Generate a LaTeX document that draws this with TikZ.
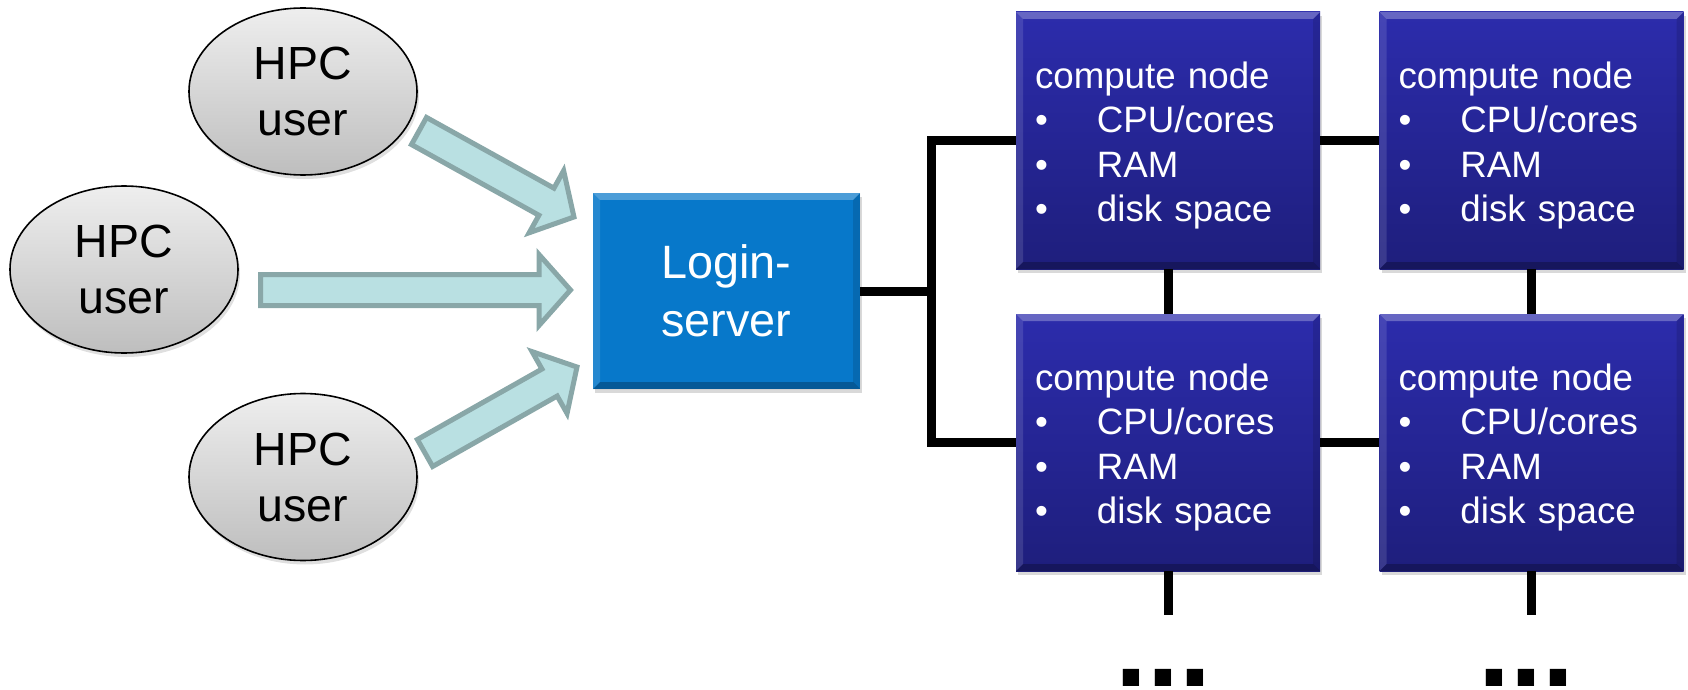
\documentclass[tikz,border=0pt]{standalone}
\usepackage{fontspec}
\setmainfont{Liberation Sans}
\usetikzlibrary{shapes.geometric,shadows,calc}
\definecolor{ellTop}{RGB}{238,238,238}
\definecolor{ellBot}{RGB}{190,190,190}
\definecolor{loginBlue}{RGB}{7,120,202}
\definecolor{cnTop}{RGB}{44,44,172}
\definecolor{cnBot}{RGB}{30,30,124}
\definecolor{arrFill}{RGB}{185,224,226}
\definecolor{arrDraw}{RGB}{137,167,168}
\newcommand\cbul{\makebox[31pt][l]{\textbullet}}
\newcommand\blockarrow[2]{%
  \path let \p1=(#1), \p2=(#2) in
    \pgfextra{%
      \pgfmathsetmacro\BAang{atan2(\y2-\y1,\x2-\x1)}%
      \pgfmathsetmacro\BAlen{veclen(\x2-\x1,\y2-\y1)}%
      \global\let\BAang\BAang \global\let\BAlen\BAlen};
  \begin{scope}[shift={(#1)}, rotate=\BAang]
    \draw[blockarr] (0pt,7.75pt) -- ({\BAlen pt-15.75pt},7.75pt) -- ({\BAlen pt-15.75pt},17.75pt)
      -- (\BAlen pt,0pt) -- ({\BAlen pt-15.75pt},-17.75pt) -- ({\BAlen pt-15.75pt},-7.75pt)
      -- (0pt,-7.75pt) -- cycle;
  \end{scope}}
\tikzset{
  bevelfx/.style={path picture={
    \coordinate (pNW) at (path picture bounding box.north west);
    \coordinate (pNE) at (path picture bounding box.north east);
    \coordinate (pSW) at (path picture bounding box.south west);
    \coordinate (pSE) at (path picture bounding box.south east);
    \fill[white,opacity=0.28] (pNW) -- (pNE) -- ([shift={(-3.5pt,-3.5pt)}]pNE) -- ([shift={(3.5pt,-3.5pt)}]pNW) -- cycle;
    \fill[white,opacity=0.12] (pNW) -- ([shift={(3.5pt,-3.5pt)}]pNW) -- ([shift={(3.5pt,3.5pt)}]pSW) -- (pSW) -- cycle;
    \fill[black,opacity=0.12] (pNE) -- ([shift={(-3.5pt,-3.5pt)}]pNE) -- ([shift={(-3.5pt,3.5pt)}]pSE) -- (pSE) -- cycle;
    \fill[black,opacity=0.25] (pSW) -- ([shift={(3.5pt,3.5pt)}]pSW) -- ([shift={(-3.5pt,3.5pt)}]pSE) -- (pSE) -- cycle;
  }},
  user/.style={ellipse, draw=black, line width=0.8pt, top color=ellTop, bottom color=ellBot,
    minimum width=114pt, minimum height=83.5pt, inner sep=0pt, align=center,
    font=\fontsize{23.25pt}{28pt}\selectfont,
    drop shadow={opacity=0.25,shadow xshift=1pt,shadow yshift=-2pt}},
  login/.style={rectangle, fill=loginBlue, minimum width=133.5pt, minimum height=98pt,
    inner sep=0pt, text=white, align=center, font=\fontsize{23.4pt}{29pt}\selectfont,
    bevelfx, drop shadow={opacity=0.3,shadow xshift=1pt,shadow yshift=-2pt}},
  cnode/.style={rectangle, top color=cnTop, bottom color=cnBot, minimum width=152pt,
    minimum height=128.5pt, inner xsep=9.5pt, inner ysep=0pt, text width=133pt, align=left,
    text=white, font=\fontsize{18.35pt}{22.2pt}\selectfont,
    bevelfx, drop shadow={opacity=0.3,shadow xshift=1pt,shadow yshift=-2pt}},
  conn/.style={line width=4.5pt, black, line join=miter},
  blockarr/.style={fill=arrFill, draw=arrDraw, line width=2.5pt, line join=miter},
  dots/.style={anchor=base, inner sep=0pt, font=\fontsize{57.5pt}{60pt}\selectfont\bfseries}
}
\begin{document}
\begin{tikzpicture}[x=0.5pt,y=0.5pt]
\useasboundingbox (0,0) rectangle (1688,-690);
% users
\node[user] (u1) at (303,-91.5) {HPC\\user};
\node[user] (u2) at (124,-269.5) {HPC\\user};
\node[user] (u3) at (303,-477) {HPC\\user};
% login server
\node[login] (login) at (726.5,-291) {Login-\\server};
% compute nodes
\node[cnode] (c1) at (1168,-140.5) {\rule{0pt}{1em}compute node\\\cbul CPU/cores\\\cbul RAM\\\cbul disk space};
\node[cnode] (c2) at (1531.5,-140.5) {\rule{0pt}{1em}compute node\\\cbul CPU/cores\\\cbul RAM\\\cbul disk space};
\node[cnode] (c3) at (1168,-442.5) {\rule{0pt}{1em}compute node\\\cbul CPU/cores\\\cbul RAM\\\cbul disk space};
\node[cnode] (c4) at (1531.5,-442.5) {\rule{0pt}{1em}compute node\\\cbul CPU/cores\\\cbul RAM\\\cbul disk space};
% block arrows
\coordinate (a1s) at (419,-131);   \coordinate (a1e) at (574,-217);
\coordinate (a2s) at (260.5,-290); \coordinate (a2e) at (570.5,-290);
\coordinate (a3s) at (425,-453);   \coordinate (a3e) at (577,-367);
\blockarrow{a1s}{a1e}
\blockarrow{a2s}{a2e}
\blockarrow{a3s}{a3e}
% network lines
\coordinate (busx) at (931,0);
\draw[conn] (login.east) -- (login.east -| busx);
\draw[conn] (c1.west) -- (c1.west -| busx) -- (c3.west -| busx) -- (c3.west);
\draw[conn] (c1.east) -- (c2.west);
\draw[conn] (c3.east) -- (c4.west);
\draw[conn] (c1.south) -- (c3.north);
\draw[conn] (c2.south) -- (c4.north);
\coordinate (e3) at (1168,-615);
\coordinate (e4) at (1531.5,-615);
\draw[conn] (c3.south) -- (e3);
\draw[conn] (c4.south) -- (e4);
% continuation dots
\node[dots] (d3) at (1163.5,-686.7) {...};
\node[dots] (d4) at (1526.5,-686.7) {...};
\end{tikzpicture}
\end{document}
